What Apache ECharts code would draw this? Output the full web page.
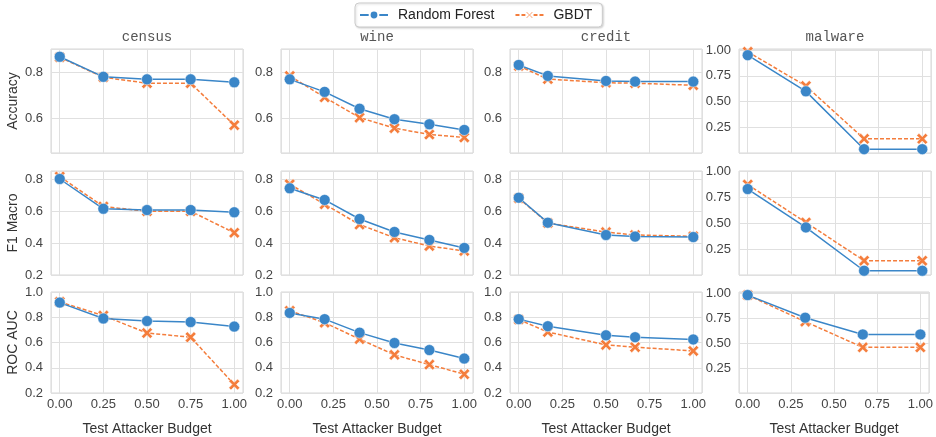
<!DOCTYPE html>
<html>
<head>
<meta charset="utf-8">
<script src="https://cdn.jsdelivr.net/npm/echarts@6/dist/echarts.min.js"></script>
<style>
  html, body { margin: 0; padding: 0; background: #fff; }
  #chart { width: 936px; height: 437px; }
</style>
</head>
<body>
<div id="chart"></div>
<script>
// columns / rows of the small multiples
const datasets = ["census", "wine", "credit", "malware"];
const metrics = ["Accuracy", "F1 Macro", "ROC AUC"];
const models = ["Random Forest", "GBDT"];

// test attacker budget per dataset
const budgets = [
  [0, 0.25, 0.5, 0.75, 1],
  [0, 0.2, 0.4, 0.6, 0.8, 1],
  [0, 0.1667, 0.5, 0.6667, 1],
  [0, 0.3333, 0.6667, 1]
];

// Random Forest, one list per dataset
const rfAccuracy = [
  [0.870, 0.782, 0.771, 0.771, 0.758],
  [0.771, 0.716, 0.642, 0.596, 0.574, 0.549],
  [0.834, 0.786, 0.764, 0.761, 0.761],
  [0.950, 0.600, 0.040, 0.040]
];
const rfF1 = [
  [0.800, 0.614, 0.606, 0.606, 0.592],
  [0.742, 0.669, 0.550, 0.469, 0.419, 0.369],
  [0.683, 0.527, 0.450, 0.440, 0.437],
  [0.832, 0.462, 0.044, 0.044]
];
const rfRoc = [
  [0.916, 0.790, 0.770, 0.762, 0.726],
  [0.834, 0.785, 0.678, 0.596, 0.540, 0.473],
  [0.785, 0.729, 0.657, 0.642, 0.624],
  [0.981, 0.755, 0.588, 0.588]
];

// GBDT
const gbAccuracy = [
  [0.868, 0.780, 0.754, 0.754, 0.570],
  [0.786, 0.692, 0.603, 0.557, 0.529, 0.516],
  [0.830, 0.772, 0.756, 0.754, 0.745],
  [0.983, 0.652, 0.140, 0.140]
];
const gbF1 = [
  [0.815, 0.628, 0.598, 0.598, 0.464],
  [0.767, 0.642, 0.515, 0.433, 0.381, 0.350],
  [0.680, 0.525, 0.468, 0.450, 0.442],
  [0.875, 0.510, 0.141, 0.141]
];
const gbRoc = [
  [0.922, 0.813, 0.675, 0.642, 0.267],
  [0.851, 0.757, 0.627, 0.502, 0.425, 0.349],
  [0.782, 0.683, 0.581, 0.563, 0.533],
  [0.981, 0.716, 0.459, 0.459]
];

// axis ranges per row: first three columns share one, malware has its own
const yRange = [[0.448, 0.904], [0.2, 0.85], [0.2, 1.0]];
const yRangeMalware = [[0.003, 1.01], [0.003, 1.006], [0.003, 1.012]];
const xTickStep = 0.25;

const rfRows = [rfAccuracy, rfF1, rfRoc];
const gbRows = [gbAccuracy, gbF1, gbRoc];

const BLUE = "#3a86c8";
const ORANGE = "#f47d3c";
const X_ICON = "path://M2,0 L5,3 L8,0 L10,2 L7,5 L10,8 L8,10 L5,7 L2,10 L0,8 L3,5 L0,2 Z";

const colLeft = [51, 281, 510, 739];
const colWidth = 192;
const rowTop = [49, 171, 292];
const rowHeight = [104, 104, 105];

function onStep(v, step) {
  let r = v / step;
  return Math.abs(r - Math.round(r)) < 1e-6;
}

let myChart = echarts.init(document.getElementById("chart"));

let grids = [], xAxes = [], yAxes = [], series = [], titles = [];

datasets.forEach((name, c) => {
  titles.push({
    text: name,
    left: colLeft[c] + colWidth / 2,
    top: 30,
    padding: 0,
    textAlign: "center",
    textStyle: { fontFamily: "Liberation Mono", fontSize: 14, fontWeight: "normal", color: "#555" }
  });
});

metrics.forEach((metric, r) => {
  datasets.forEach((name, c) => {
    let idx = grids.length;
    grids.push({
      left: colLeft[c], top: rowTop[r], width: colWidth, height: rowHeight[r],
      show: true, borderColor: "#d6d6d6", borderWidth: 1, backgroundColor: "#fff"
    });
    let isBottom = r === metrics.length - 1;
    xAxes.push({
      type: "value", gridIndex: idx, min: -0.05, max: 1.05,
      minInterval: xTickStep, maxInterval: xTickStep,
      name: isBottom ? "Test Attacker Budget" : "",
      nameLocation: "middle", nameGap: 29,
      nameTextStyle: { fontFamily: "Liberation Sans", fontSize: 14, color: "#333" },
      axisLine: { show: false }, axisTick: { show: false },
      splitLine: { lineStyle: { color: "#e0e0e0", width: 1 } },
      axisLabel: {
        show: isBottom, margin: 5,
        fontFamily: "Liberation Sans", fontSize: 13, color: "#444",
        formatter: v => onStep(v, xTickStep) ? v.toFixed(2) : ""
      }
    });
    let range = c === 3 ? yRangeMalware[r] : yRange[r];
    let step = c === 3 ? 0.25 : 0.2;
    yAxes.push({
      type: "value", gridIndex: idx, min: range[0], max: range[1],
      minInterval: step, maxInterval: step,
      name: c === 0 ? metric : "",
      nameLocation: "middle", nameRotate: 90, nameGap: 31,
      nameTextStyle: { fontFamily: "Liberation Sans", fontSize: 14, color: "#333" },
      axisLine: { show: false }, axisTick: { show: false },
      splitLine: { lineStyle: { color: "#e0e0e0", width: 1 } },
      axisLabel: {
        margin: 8, fontFamily: "Liberation Sans", fontSize: 13, color: "#444",
        formatter: v => onStep(v, step) ? v.toFixed(step === 0.25 ? 2 : 1) : ""
      }
    });
    let xs = budgets[c];
    series.push({
      name: "GBDT", type: "line", xAxisIndex: idx, yAxisIndex: idx, z: 2,
      data: xs.map((x, i) => [x, gbRows[r][c][i]]),
      symbol: X_ICON, symbolSize: 11,
      itemStyle: { color: ORANGE, borderColor: "#fff", borderWidth: 0.5 },
      lineStyle: { color: ORANGE, width: 1.5, type: [4, 2] },
      animation: false
    });
    series.push({
      name: "Random Forest", type: "line", xAxisIndex: idx, yAxisIndex: idx, z: 3,
      data: xs.map((x, i) => [x, rfRows[r][c][i]]),
      symbol: "circle", symbolSize: 11,
      itemStyle: { color: BLUE, borderColor: "#fff", borderWidth: 0.5 },
      lineStyle: { color: BLUE, width: 1.5 },
      animation: false
    });
  });
});

let option = {
  backgroundColor: "#fff",
  animation: false,
  title: titles,
  legend: {
    data: models, left: 355, top: 3,
    itemWidth: 28, itemHeight: 11, itemGap: 20,
    padding: [5, 10, 5, 4],
    borderColor: "#cccccc", borderWidth: 1, borderRadius: 4,
    backgroundColor: "#fff",
    shadowColor: "rgba(0,0,0,0.15)", shadowBlur: 2, shadowOffsetX: 1, shadowOffsetY: 1,
    textStyle: { fontFamily: "Liberation Sans", fontSize: 14, color: "#222", padding: [0, 0, 0, 5] }
  },
  grid: grids,
  xAxis: xAxes,
  yAxis: yAxes,
  series: series
};

myChart.setOption(option, true);

window.addEventListener("resize", () => {
  myChart.resize();
});
</script>
</body>
</html>
